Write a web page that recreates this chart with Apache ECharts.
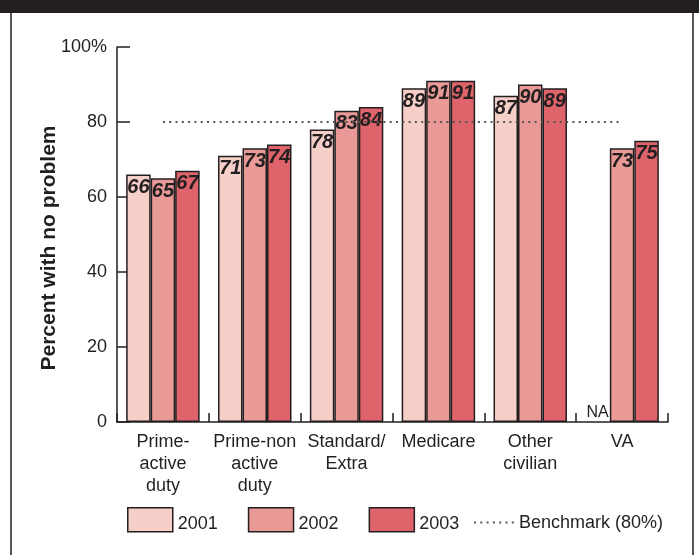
<!DOCTYPE html>
<html>
<head>
<meta charset="utf-8">
<script src="https://cdn.jsdelivr.net/npm/echarts@6/dist/echarts.min.js"></script>
<style>html,body{margin:0;padding:0;background:#fff}#c{width:699px;height:555px}</style>
</head>
<body>
<div id="c"></div>
<script>
var categories = ['Prime-\nactive\nduty', 'Prime-non\nactive\nduty', 'Standard/\nExtra', 'Medicare', 'Other\ncivilian', 'VA'];
var years = ['2001', '2002', '2003'];
var values2001 = [66, 71, 78, 89, 87, null];
var values2002 = [65, 73, 83, 91, 90, 73];
var values2003 = [67, 74, 84, 91, 89, 75];
var benchmark = [80, 80, 80, 80, 80, 80];
var benchmarkName = 'Benchmark (80%)';
var yTicks = [0, 20, 40, 60, 80, 100];

var INK = '#231f20';
var FONT = '"Liberation Sans", Arial, sans-serif';
var colors = ['#f6cfc9', '#ea9a96', '#df636b'];

function barData(arr) {
  return arr.map(function (v) {
    if (v === null) {
      return {
        value: 0,
        itemStyle: { borderWidth: 0, color: 'rgba(0,0,0,0)' },
        label: { show: true, position: 'top', distance: 1, formatter: 'NA', fontStyle: 'normal', fontWeight: 'normal', fontSize: 16, color: INK }
      };
    }
    return v;
  });
}

function barSeries(name, arr, color) {
  return {
    name: name,
    type: 'bar',
    data: barData(arr),
    barGap: '0%',
    barCategoryGap: '20%',
    itemStyle: { color: color, borderColor: INK, borderWidth: 1.5 },
    label: {
      show: true, position: 'insideTop', distance: 3,
      fontFamily: FONT, fontStyle: 'italic', fontWeight: 'bold', fontSize: 20, color: INK
    },
    z: 2
  };
}

var chart = echarts.init(document.getElementById('c'), null, { renderer: 'canvas' });
chart.setOption({
  animation: false,
  textStyle: { fontFamily: FONT, color: INK },
  grid: { left: 117, right: 31, top: 47, bottom: 133, containLabel: false },
  xAxis: {
    type: 'category',
    data: categories,
    boundaryGap: true,
    axisLine: { lineStyle: { color: INK, width: 1.5 } },
    axisTick: { show: true, inside: true, length: 9, lineStyle: { color: INK, width: 1.5 } },
    axisLabel: { fontFamily: FONT, fontSize: 18, color: INK, lineHeight: 22, margin: 9, interval: 0 }
  },
  yAxis: {
    type: 'value',
    min: yTicks[0], max: yTicks[yTicks.length - 1], interval: 20,
    splitLine: { show: false },
    axisLine: { show: true, lineStyle: { color: INK, width: 1.5 } },
    axisTick: { show: true, inside: true, length: 13, lineStyle: { color: INK, width: 1.5 } },
    axisLabel: {
      fontFamily: FONT, fontSize: 18, color: INK, margin: 10,
      formatter: function (v) { return v === 100 ? '100%' : String(v); }
    }
  },
  legend: [
    {
      data: years,
      left: 127, top: 507, padding: 0,
      itemWidth: 45, itemHeight: 24, itemGap: 30,
      icon: 'rect',
      itemStyle: { borderColor: INK, borderWidth: 1.5 },
      formatter: '{t|{name}}',
      textStyle: {
        fontFamily: FONT, fontSize: 18, color: INK,
        rich: { t: { fontFamily: FONT, fontSize: 18, color: INK, padding: [8, 0, 0, 0] } }
      }
    },
    {
      data: [benchmarkName],
      left: 473, top: 513, padding: 0,
      itemWidth: 40, itemHeight: 24,
      itemStyle: { opacity: 0 },
      lineStyle: { color: '#555', width: 2, type: [2, 4.3] },
      textStyle: { fontFamily: FONT, fontSize: 18, color: INK }
    }
  ],
  graphic: [
    { type: 'rect', shape: { x: 0, y: 0, width: 699, height: 13 }, style: { fill: INK }, silent: true },
    { type: 'line', shape: { x1: 11, y1: 13, x2: 11, y2: 555 }, style: { stroke: INK, lineWidth: 1.5 }, silent: true },
    { type: 'line', shape: { x1: 693, y1: 13, x2: 693, y2: 555 }, style: { stroke: INK, lineWidth: 1.5 }, silent: true },
    {
      type: 'text', x: 49, y: 248, rotation: Math.PI / 2,
      style: { text: 'Percent with no problem', font: 'bold 21px ' + FONT, fill: INK, align: 'center', verticalAlign: 'middle' },
      silent: true
    }
  ],
  series: [
    barSeries(years[0], values2001, colors[0]),
    barSeries(years[1], values2002, colors[1]),
    barSeries(years[2], values2003, colors[2]),
    {
      name: benchmarkName,
      type: 'line',
      data: benchmark,
      symbol: 'none',
      lineStyle: { color: '#555', width: 2, type: [2, 4.3] },
      itemStyle: { color: '#555' },
      z: 5
    }
  ]
});
</script>
</body>
</html>
